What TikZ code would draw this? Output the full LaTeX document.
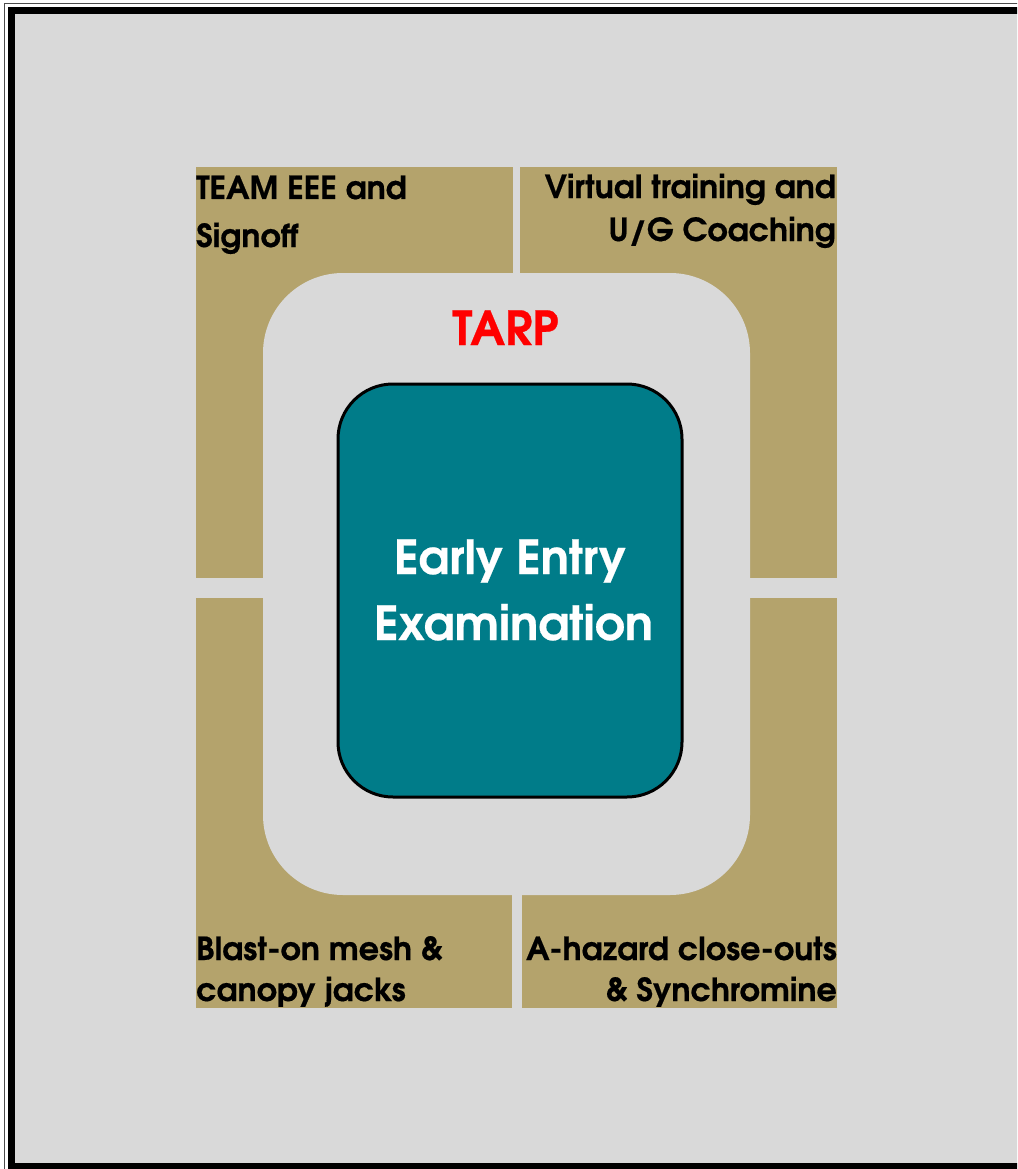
\documentclass[tikz,border=0pt]{standalone}
\usepackage{fontspec}
\newfontfamily\gothic[FakeBold=0.5]{texgyreadventor-bold.otf}
\definecolor{bggrey}{HTML}{D9D9D9}
\definecolor{tan}{HTML}{B4A36C}
\definecolor{tealbox}{HTML}{007C89}
\tikzset{
  lbl/.style={font=\gothic\fontsize{31.8}{32}\selectfont, text=black, inner sep=0pt},
  title/.style={font=\gothic\fontsize{47}{47}\selectfont, text=red, inner sep=0pt},
  core/.style={draw=black, line width=3pt, fill=tealbox, rounded corners=55pt, inner sep=0pt},
  coretext/.style={font=\gothic\fontsize{47}{47}\selectfont, text=white, inner sep=0pt}
}
\begin{document}
\begin{tikzpicture}[x=1pt,y=-1pt]
\useasboundingbox (0,0) rectangle (1017,1169);
\clip (0,0) rectangle (1017,1169);
\fill[white] (0,0) rectangle (1017,1169);
% frame
\draw[line width=1.3pt, black!70] (4.5,3.5) rectangle (1030,1185);
\draw[line width=7pt, fill=bggrey] (11.5,10.5) rectangle (1021.5,1166.5);
% tan panels
\fill[tan] (196,167) rectangle (837,1008);
\fill[bggrey] (513,160) rectangle (520,280);
\fill[bggrey] (512,890) rectangle (522,1015);
\fill[bggrey] (190,578) rectangle (270,598);
\fill[bggrey] (745,578) rectangle (845,598);
\fill[bggrey, rounded corners=80pt] (263,273) rectangle (750,895);
% core
\node[core, minimum width=344pt, minimum height=413pt] (core) at (510,590.5) {};
\node[coretext, anchor=base] (ee1) at (510,574) {Early Entry};
\node[coretext, anchor=base] (ee2) at (513.5,640) {Examination};
\node[title, anchor=base] (tarp) at (505.5,345) {TARP};
% labels
\node[lbl, anchor=base west] (tl1) at (196,199) {TEAM EEE and};
\node[lbl, anchor=base west] (tl2) at (196,247) {Signoff};
\node[lbl, anchor=base east] (tr1) at (836,198) {Virtual training and};
\node[lbl, anchor=base east] (tr2) at (836,241) {U/G Coaching};
\node[lbl, anchor=base west] (bl1) at (196,960) {Blast-on mesh \&};
\node[lbl, anchor=base west] (bl2) at (196,1001) {canopy jacks};
\node[lbl, anchor=base east] (br1) at (837,960) {A-hazard close-outs};
\node[lbl, anchor=base east] (br2) at (837,1001) {\& Synchromine};
\end{tikzpicture}
\end{document}
